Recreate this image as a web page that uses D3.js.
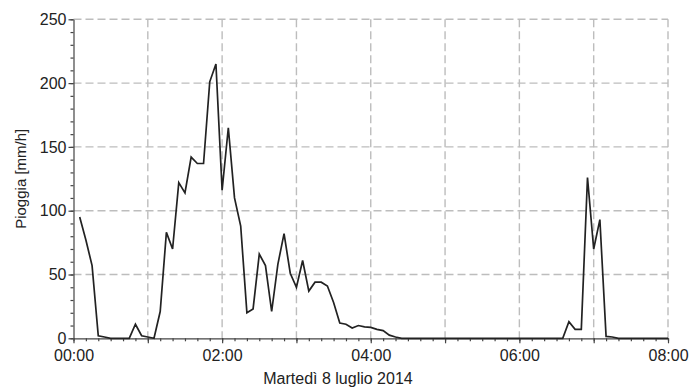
<!DOCTYPE html>
<html>
<head>
<meta charset="utf-8">
<script src="https://cdn.jsdelivr.net/npm/d3@7"></script>
<style>
  body { margin: 0; background: #fff; }
  svg { font-family: "Liberation Sans", Arial, sans-serif; }
  .grid line { stroke: #bdbdbd; stroke-width: 1.4; stroke-dasharray: 8 4; }
  .axis path, .axis line { stroke: #444; stroke-width: 1.2; }
  .axis text { fill: #222; font-size: 16px; }
</style>
</head>
<body>
<div id="chart"></div>
<script>
// rainfall, one reading every 5 minutes from 00:05 to 08:00
const startTime = '2014-07-08T00:05:00Z',
      stepMinutes = 5;
const rainValues = [
  95, 77, 57, 2, 1, 0, 0, 0, 0, 11, 2, 1,          // 00:05 - 01:00
  0, 21, 83, 70, 122, 114, 142, 137, 137, 201, 215, 116, // 01:05 - 02:00
  165, 110, 88, 20, 23, 66, 57, 21, 58, 82, 51, 40, // 02:05 - 03:00
  61, 37, 44, 44, 41, 28, 12, 11, 8, 10, 9, 8.5,    // 03:05 - 04:00
  7, 6, 2.5, 1, 0, 0, 0, 0, 0, 0, 0, 0,             // 04:05 - 05:00
  0, 0, 0, 0, 0, 0, 0, 0, 0, 0, 0, 0,               // 05:05 - 06:00
  0, 0, 0, 0, 0, 0, 0, 13, 7, 7, 126, 70,           // 06:05 - 07:00
  93, 1.5, 1, 0, 0, 0, 0, 0, 0, 0, 0, 0             // 07:05 - 08:00
];
const yTicks = [0, 50, 100, 150, 200, 250];
const xLabelHours = ['00:00', '02:00', '04:00', '06:00', '08:00'];
const yTitle = 'Pioggia [mm/h]',
      xTitle = 'Martedì 8 luglio 2014';

const width = 691,
      height = 389;

const t0 = new Date('2014-07-08T00:00:00Z'),
      t1 = new Date('2014-07-08T08:00:00Z');

const rows = rainValues.map(function (v, i) {
  return { time: d3.utcMinute.offset(new Date(startTime), i * stepMinutes), value: v };
});

const svg = d3.select('#chart')
  .append('svg')
  .attr('width', width)
  .attr('height', height);

const x = d3.scaleUtc().domain([t0, t1]).range([73.5, 668]);
const y = d3.scaleLinear().domain([0, 250]).range([338.3, 19.3]);
const fmt = d3.utcFormat('%H:%M');

// dashed grid
const grid = svg.append('g').attr('class', 'grid');
grid.selectAll('.h')
  .data(yTicks.slice(1))
  .enter()
  .append('line')
  .attr('x1', x.range()[0])
  .attr('x2', x.range()[1])
  .attr('y1', function (d) { return y(d); })
  .attr('y2', function (d) { return y(d); });
grid.selectAll('.v')
  .data(d3.utcHour.range(d3.utcHour.offset(t0, 1), d3.utcHour.offset(t1, 1)))
  .enter()
  .append('line')
  .attr('x1', function (d) { return x(d); })
  .attr('x2', function (d) { return x(d); })
  .attr('y1', y.range()[1])
  .attr('y2', y.range()[0]);

// minor ticks
svg.append('g')
  .attr('class', 'axis')
  .attr('transform', 'translate(0,' + y(0) + ')')
  .call(d3.axisBottom(x).ticks(d3.utcMinute.every(10)).tickSize(3).tickFormat('').tickSizeOuter(0))
  .select('.domain').remove();
svg.append('g')
  .attr('class', 'axis')
  .attr('transform', 'translate(' + x(t0) + ',0)')
  .call(d3.axisLeft(y).tickValues(d3.range(0, 251, 10)).tickSize(3).tickFormat('').tickSizeOuter(0))
  .select('.domain').remove();

// major axes
svg.append('g')
  .attr('class', 'axis')
  .attr('transform', 'translate(0,' + y(0) + ')')
  .call(d3.axisBottom(x)
    .ticks(d3.utcHour.every(1))
    .tickSize(5)
    .tickPadding(6)
    .tickSizeOuter(0)
    .tickFormat(function (d) {
      const s = fmt(d);
      return xLabelHours.indexOf(s) >= 0 ? s : '';
    }));

svg.append('g')
  .attr('class', 'axis')
  .attr('transform', 'translate(' + x(t0) + ',0)')
  .call(d3.axisLeft(y).tickValues(yTicks).tickSize(5).tickPadding(2).tickSizeOuter(0));

// rain line
svg.append('path')
  .datum(rows)
  .attr('fill', 'none')
  .attr('stroke', '#222')
  .attr('stroke-width', 1.7)
  .attr('stroke-linejoin', 'miter')
  .attr('d', d3.line()
    .x(function (d) { return x(d.time); })
    .y(function (d) { return y(d.value); }));

// titles
svg.append('text')
  .text(yTitle)
  .attr('transform', 'translate(26,' + ((y.range()[0] + y.range()[1]) / 2) + ') rotate(-90)')
  .style('text-anchor', 'middle')
  .style('font-size', '15px')
  .style('fill', '#222');

svg.append('text')
  .text(xTitle)
  .attr('x', 338)
  .attr('y', 384)
  .style('text-anchor', 'middle')
  .style('font-size', '16px')
  .style('fill', '#222');
</script>
</body>
</html>
